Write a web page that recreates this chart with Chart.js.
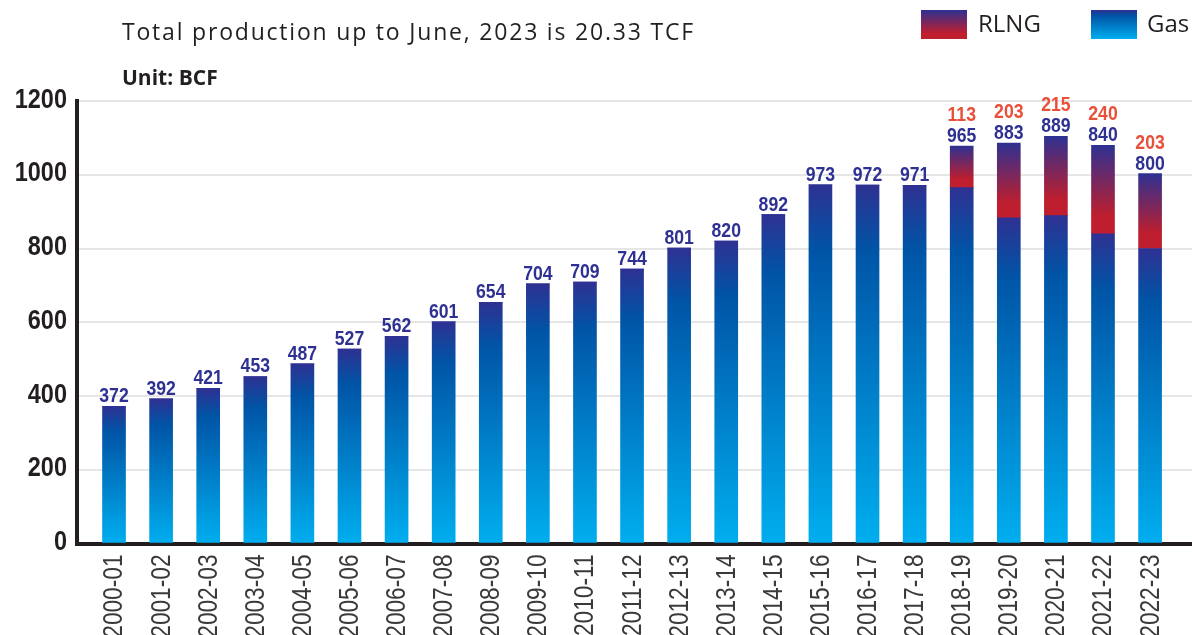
<!DOCTYPE html>
<html>
<head>
<meta charset="utf-8">
<script src="https://cdn.jsdelivr.net/npm/chart.js@4"></script>
<style>
  body { margin: 0; background: #fff; }
  #wrap { position: relative; width: 1192px; height: 635px; overflow: hidden; }
  canvas { position: absolute; left: 0; top: 0; }
  .txt { position: absolute; color: #231f20; font-family: "Open Sans", sans-serif; white-space: nowrap; }
  #titulo { left: 122px; top: 15px; font-size: 23px; letter-spacing: 1.8px; }
  #unidade { left: 122px; top: 63px; font-size: 21px; font-weight: bold; }
  .sw { position: absolute; top: 10px; width: 46px; height: 29px; }
  #swRlng { left: 921px; background: linear-gradient(#2e3192, #be1e2d 80%, #be1e2d); }
  #swGas { left: 1091px; background: linear-gradient(#2e3192, #0054a6 20%, #00aeef); }
  .leg { top: 6px; font-size: 24px; }
</style>
</head>
<body>
<div id="wrap">
  <canvas id="grafico" width="1192" height="635"></canvas>
  <div class="txt" id="titulo">Total production up to June, 2023 is 20.33 TCF</div>
  <div class="txt" id="unidade">Unit: BCF</div>
  <div class="sw" id="swRlng"></div>
  <div class="txt leg" style="left:978px">RLNG</div>
  <div class="sw" id="swGas"></div>
  <div class="txt leg" style="left:1147px">Gas</div>
</div>
<script>
// anos fiscais (eixo X)
const anos = ['2000-01', '2001-02', '2002-03', '2003-04', '2004-05', '2005-06', '2006-07', '2007-08',
  '2008-09', '2009-10', '2010-11', '2011-12', '2012-13', '2013-14', '2014-15', '2015-16',
  '2016-17', '2017-18', '2018-19', '2019-20', '2020-21', '2021-22', '2022-23'];

// producao de gas (BCF)
const gas = [372, 392, 421, 453, 487, 527, 562, 601, 654, 704, 709, 744, 801, 820, 892, 973,
  972, 971, 965, 883, 889, 840, 800];

// RLNG (so aparece a partir de 2018-19)
const rlng = [0, 0, 0, 0, 0, 0, 0, 0, 0, 0, 0, 0, 0, 0, 0, 0, 0, 0, 113, 203, 215, 240, 203];

// marcas do eixo Y
const ticksY = [0, 200, 400, 600, 800, 1000, 1200];

const AZUL = '#2e3192';
const FONTE = '"Liberation Sans", Arial, sans-serif';
const ESTREITO = 0.84; // "aperta" a fonte na horizontal (tipo Arial Narrow)

// gradiente de cada barra, calculado a partir da escala
function gradiente(ctx, base, topo, paradas) {
  const chart = ctx.chart;
  const ys = chart.scales.y;
  if (!ys || !chart.chartArea) return paradas[0][1];
  const y0 = ys.getPixelForValue(base);
  const y1 = ys.getPixelForValue(topo);
  if (Math.abs(y0 - y1) < 1) return paradas[0][1];
  const g = chart.ctx.createLinearGradient(0, y1, 0, y0);
  paradas.forEach(p => g.addColorStop(p[0], p[1]));
  return g;
}

// escreve texto estreito
function textoEstreito(c, txt, x, y) {
  c.save();
  c.translate(x, y);
  c.scale(ESTREITO, 1);
  c.fillText(txt, 0, 0);
  c.restore();
}

// rotulos de valor acima das barras + rotulos dos eixos
const rotulos = {
  id: 'rotulos',
  afterDatasetsDraw(chart) {
    const c = chart.ctx;
    const metaGas = chart.getDatasetMeta(0);
    const metaRlng = chart.getDatasetMeta(1);
    const area = chart.chartArea;
    c.save();
    c.font = 'bold 21px ' + FONTE;
    c.textAlign = 'center';
    c.textBaseline = 'alphabetic';
    gas.forEach((v, i) => {
      const barra = metaGas.data[i];
      let topo = barra.y;
      if (rlng[i] > 0) topo = Math.min(topo, metaRlng.data[i].y);
      c.fillStyle = AZUL;
      textoEstreito(c, String(v), barra.x, topo - 4);
      if (rlng[i] > 0) {
        c.fillStyle = '#e8503a';
        textoEstreito(c, String(rlng[i]), barra.x, topo - 25);
      }
    });

    // eixo Y
    const ys = chart.scales.y;
    c.font = 'bold 28px ' + FONTE;
    c.fillStyle = '#231f20';
    c.textAlign = 'right';
    c.textBaseline = 'middle';
    ticksY.forEach(v => {
      textoEstreito(c, String(v), area.left - 10, ys.getPixelForValue(v) - 1);
    });

    // eixo X (rotulos girados)
    const xs = chart.scales.x;
    c.font = '27px ' + FONTE;
    c.fillStyle = '#3a3a3a';
    c.textAlign = 'right';
    c.textBaseline = 'middle';
    anos.forEach((a, i) => {
      c.save();
      c.translate(xs.getPixelForValue(i) + 1, area.bottom + 11);
      c.rotate(-Math.PI / 2);
      c.scale(ESTREITO, 1);
      c.fillText(a, 0, 0);
      c.restore();
    });
    c.restore();
  }
};

new Chart(document.getElementById('grafico'), {
  type: 'bar',
  data: {
    datasets: [
      {
        label: 'Gas',
        data: gas.map((v, i) => ({ x: i, y: v })),
        backgroundColor: ctx => gradiente(ctx, 0, gas[ctx.dataIndex] || 1,
          [[0, '#2e3192'], [0.18, '#0054a6'], [1, '#00aeef']]),
        barThickness: 23
      },
      {
        label: 'RLNG',
        data: rlng.map((v, i) => ({ x: i, y: v })),
        backgroundColor: ctx => gradiente(ctx, gas[ctx.dataIndex] || 0,
          (gas[ctx.dataIndex] || 0) + (rlng[ctx.dataIndex] || 0),
          [[0, '#2e3192'], [0.8, '#be1e2d'], [1, '#be1e2d']]),
        barThickness: 23
      }
    ]
  },
  options: {
    responsive: false,
    animation: false,
    layout: { padding: { top: 101, right: 0, left: 0, bottom: 0 } },
    plugins: {
      legend: { display: false },
      tooltip: { enabled: false }
    },
    scales: {
      x: {
        type: 'linear',
        stacked: true,
        offset: false,
        min: -0.786,
        max: 22.89,
        grid: { display: false, offset: false },
        border: { display: true, color: '#231f20', width: 4 },
        afterFit: s => { s.height = 91.5; },
        ticks: { display: false }
      },
      y: {
        stacked: true,
        min: 0,
        max: 1200,
        afterBuildTicks: s => { s.ticks = ticksY.map(v => ({ value: v })); },
        afterFit: s => { s.width = 77; },
        grid: { color: '#e6e6e6', lineWidth: 2, drawTicks: false },
        border: { display: true, color: '#231f20', width: 4 },
        ticks: { display: false }
      }
    }
  },
  plugins: [rotulos]
});
</script>
</body>
</html>
